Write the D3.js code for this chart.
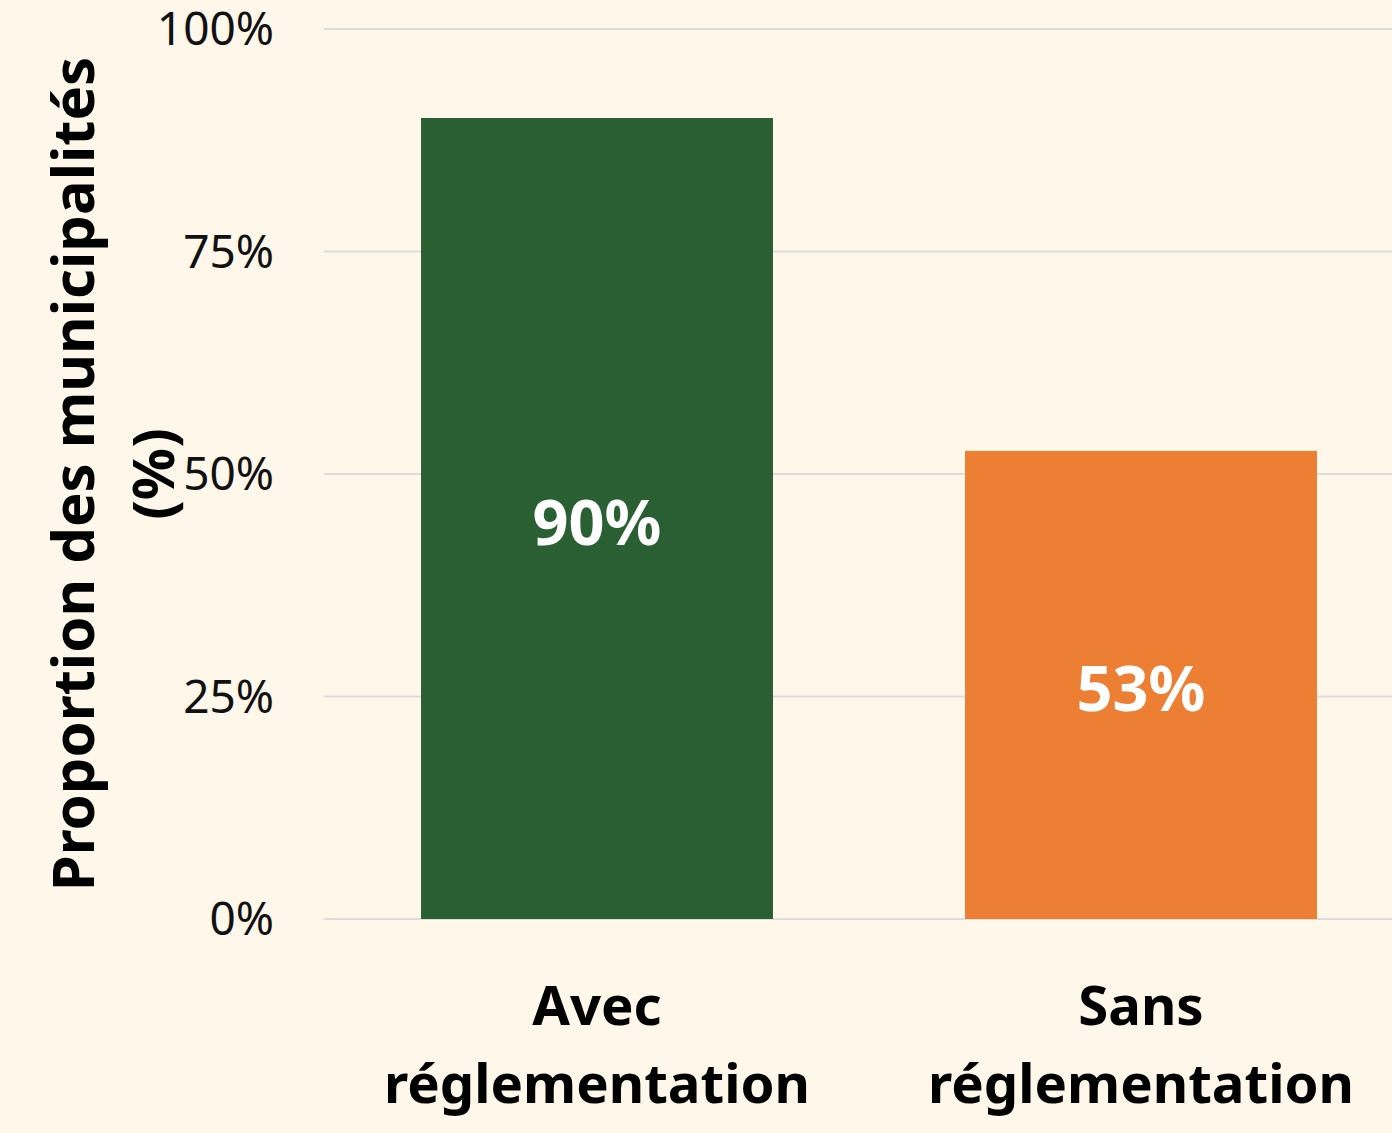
<!DOCTYPE html>
<meta charset="utf-8">
<style>
body { margin: 0; background: #fef7ea; }
svg { display: block; font-family: "Noto Sans", "Open Sans", sans-serif; }
</style>
<svg width="1392" height="1133"></svg>
<script src="https://cdn.jsdelivr.net/npm/d3@7"></script>
<script>

var categories = [["Avec", "réglementation"], ["Sans", "réglementation"]],
    values = [90, 52.6],
    colors = ["#2a5f34", "#ed7f35"],
    yTicks = [0, 25, 50, 75, 100];

var svg = d3.select("svg"),
    width = +svg.attr("width"),
    height = +svg.attr("height");

svg.append("rect").attr("width", width).attr("height", height).attr("fill", "#fef7ea");

var x = d3.scaleBand()
    .domain(d3.range(categories.length))
    .range([325, 1413])
    .paddingInner(0.353)
    .paddingOuter(0.1765);

var y = d3.scaleLinear()
    .domain([0, 100])
    .range([919, 29]);

// grid
svg.append("g").selectAll("line")
  .data(yTicks)
  .enter().append("line")
    .attr("x1", 324)
    .attr("x2", width)
    .attr("y1", function(d) { return y(d); })
    .attr("y2", function(d) { return y(d); })
    .attr("stroke", "#dcdcdc")
    .attr("stroke-width", 2);

// y tick labels
svg.append("g").selectAll("text")
  .data(yTicks)
  .enter().append("text")
    .attr("x", 274)
    .attr("y", function(d) { return y(d); })
    .attr("dy", "0.35em")
    .attr("text-anchor", "end")
    .attr("font-size", 46)
    .attr("fill", "#111")
    .text(function(d) { return d + "%"; });

// bars
svg.append("g").selectAll("rect")
  .data(values)
  .enter().append("rect")
    .attr("x", function(d, i) { return x(i); })
    .attr("y", function(d) { return y(d); })
    .attr("width", x.bandwidth())
    .attr("height", function(d) { return y(0) - y(d); })
    .attr("fill", function(d, i) { return colors[i]; });

// value labels
svg.append("g").selectAll("text")
  .data(values)
  .enter().append("text")
    .attr("x", function(d, i) { return x(i) + x.bandwidth() / 2; })
    .attr("y", function(d) { return y(d / 2) + 4; })
    .attr("dy", "0.35em")
    .attr("text-anchor", "middle")
    .attr("font-size", 63)
    .attr("font-weight", "bold")
    .attr("fill", "#fff")
    .text(function(d) { return Math.round(d) + "%"; });

// x labels
var xl = svg.append("g").selectAll("text")
  .data(categories)
  .enter().append("text")
    .attr("text-anchor", "middle")
    .attr("font-size", 54.5)
    .attr("font-weight", "bold")
    .attr("fill", "#000");

xl.selectAll("tspan")
  .data(function(d, i) { return d.map(function(s) { return {s: s, i: i}; }); })
  .enter().append("tspan")
    .attr("x", function(d) { return x(d.i) + x.bandwidth() / 2; })
    .attr("y", function(d, j) { return 1025 + j * 78; })
    .text(function(d) { return d.s; });

// y title
var yt = svg.append("text")
    .attr("transform", "translate(0," + y(50) + ") rotate(-90)")
    .attr("text-anchor", "middle")
    .attr("font-size", 58)
    .attr("font-weight", "bold")
    .attr("fill", "#000");

yt.append("tspan").attr("x", 0).attr("y", 94).text("Proportion des municipalités");
yt.append("tspan").attr("x", 0).attr("y", 174).text("(%)");

</script>
